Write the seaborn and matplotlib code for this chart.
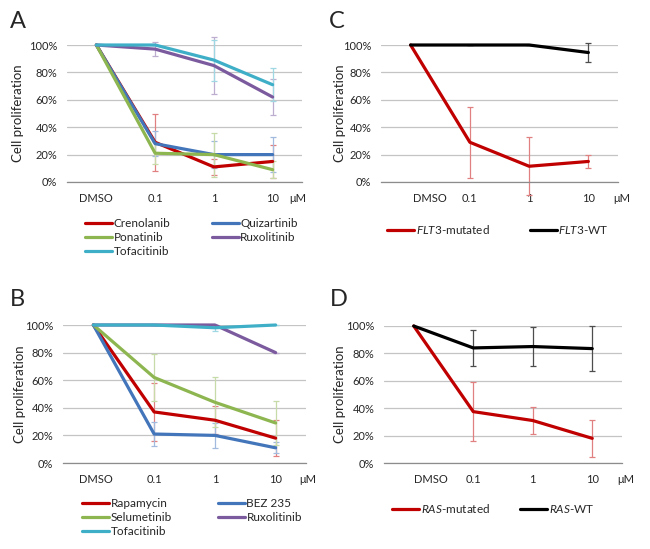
import numpy as np
import pandas as pd
import matplotlib
matplotlib.use("Agg")
import matplotlib.pyplot as plt
import seaborn as sns
from matplotlib.lines import Line2D
from matplotlib.colors import to_rgb
from matplotlib.ticker import PercentFormatter
from matplotlib.transforms import ScaledTranslation

# ---- data (fraction of DMSO control) ----
doses = ["DMSO", "0.1", "1", "10"]

a_drugs = ["Crenolanib", "Quizartinib", "Ponatinib", "Ruxolitinib", "Tofacitinib"]
a_means = [[1.00, 0.29, 0.11, 0.15],
           [1.00, 0.28, 0.20, 0.20],
           [1.00, 0.21, 0.20, 0.09],
           [1.00, 0.97, 0.85, 0.62],
           [1.00, 1.00, 0.89, 0.71]]
a_errs = [[0, 0.21, 0.06, 0.12],
          [0, 0.09, 0.10, 0.13],
          [0, 0.08, 0.16, 0.06],
          [0, 0.05, 0.21, 0.13],
          [0, 0.00, 0.15, 0.12]]

b_drugs = ["Rapamycin", "BEZ 235", "Selumetinib", "Ruxolitinib", "Tofacitinib"]
b_means = [[1.00, 0.37, 0.31, 0.18],
           [1.00, 0.21, 0.20, 0.11],
           [1.00, 0.62, 0.44, 0.29],
           [1.00, 1.00, 1.00, 0.80],
           [1.00, 1.00, 0.98, 1.00]]
b_errs = [[0, 0.21, 0.10, 0.13],
          [0, 0.09, 0.09, 0.04],
          [0, 0.17, 0.18, 0.16],
          [0, 0.00, 0.00, 0.00],
          [0, 0.00, 0.02, 0.00]]

c_groups = ["$\\mathit{FLT3}$-mutated", "$\\mathit{FLT3}$-WT"]
c_means = [[1.00, 0.29, 0.115, 0.15],
           [1.00, 1.00, 1.00, 0.945]]
c_errs = [[0, 0.26, 0.21, 0.05],
          [0, 0.00, 0.00, 0.07]]

d_groups = ["$\\mathit{RAS}$-mutated", "$\\mathit{RAS}$-WT"]
d_means = [[1.00, 0.375, 0.31, 0.18],
           [1.00, 0.84, 0.85, 0.835]]
d_errs = [[0, 0.215, 0.10, 0.135],
          [0, 0.13, 0.14, 0.165]]

# ---- style ----
RED, BLUE, GREEN, PURPLE, CYAN, BLACK = "#C00000", "#4375BA", "#8DB650", "#7B5A9E", "#3FAFC8", "#000000"

sns.set_style("white")
plt.rcParams["font.family"] = ["Lato", "DejaVu Sans"]
plt.rcParams["mathtext.fontset"] = "custom"
plt.rcParams["mathtext.rm"] = "Lato"
plt.rcParams["mathtext.it"] = "Lato:italic"

FS = 8
fig = plt.figure(figsize=(6.5, 5.49), dpi=100)


def tint(c, mix):
    r = np.array(to_rgb(c))
    return tuple(r + (1 - r) * mix)


def draw_panel(rect, names, means, errs, colors, letter, letter_xy, ylab_x,
               mu_x, dmso_dx, leg_xy, colspace):
    ax = fig.add_axes(rect)
    x = np.arange(len(doses))
    df = pd.DataFrame({
        "pos": np.tile(x, len(names)),
        "value": np.concatenate(means),
        "series": np.repeat(names, len(doses)),
    })
    for m, e, c in zip(means, errs, colors):
        ec = tint(c, 0.3 if c == BLACK else 0.5)
        ax.errorbar(x[1:], m[1:], yerr=e[1:], fmt="none", ecolor=ec,
                    elinewidth=0.9, capsize=2.2, capthick=0.9, zorder=2,
                    clip_on=False)
    sns.lineplot(data=df, x="pos", y="value", hue="series", hue_order=names,
                 palette=colors, sort=False, errorbar=None, linewidth=2.3,
                 legend=False, ax=ax, clip_on=False, zorder=3)

    ax.set_xlim(-0.5, 3.5)
    ax.set_ylim(0, 1)
    ax.set_xticks(x)
    ax.set_xticklabels(doses)
    ax.set_xticks(np.arange(-0.5, 4, 1), minor=True)
    ax.tick_params(axis="x", which="major", length=0, pad=8, labelsize=FS)
    ax.tick_params(axis="x", which="minor", length=3, width=0.8,
                   color="#8c8c8c", direction="out")
    ax.set_yticks(np.linspace(0, 1, 6))
    ax.yaxis.set_major_formatter(PercentFormatter(1.0, decimals=0))
    ax.tick_params(axis="y", length=0, pad=7, labelsize=FS)
    ax.grid(axis="y", color="#c4c4c4", linewidth=0.9)
    ax.grid(axis="x", visible=False)
    ax.set_axisbelow(True)
    sns.despine(ax=ax, left=True)
    ax.spines["bottom"].set_color("#8c8c8c")
    ax.spines["bottom"].set_linewidth(0.9)
    ax.set_xlabel("")
    ax.set_ylabel("Cell proliferation", fontsize=9.5, va="center")
    ax.yaxis.set_label_coords(ylab_x, 0.5)

    if dmso_dx:
        lbl = ax.get_xticklabels()[0]
        lbl.set_transform(lbl.get_transform() +
                          ScaledTranslation(dmso_dx / 100, 0, fig.dpi_scale_trans))
    ax.annotate("\u03bcM", xy=(mu_x, 0), xycoords=("data", "axes fraction"),
                xytext=(0, -8), textcoords="offset points", ha="center",
                va="top", fontsize=FS, annotation_clip=False)

    handles = [Line2D([], [], color=c, linewidth=2.3) for c in colors]
    if len(names) > 2:
        order = [0, 2, 4, 1, 3]
    else:
        order = [0, 1]
    ax.legend([handles[i] for i in order], [names[i] for i in order],
              loc="upper left", bbox_to_anchor=leg_xy,
              bbox_transform=fig.transFigure, ncol=2, frameon=False,
              fontsize=8.5, handlelength=2.3, handletextpad=0.12,
              columnspacing=colspace, labelspacing=0.25, borderpad=0,
              borderaxespad=0)
    fig.text(letter_xy[0], letter_xy[1], letter, fontsize=17, ha="left",
             va="center")
    return ax


W, H = 650, 549


def rect(x0, x1, y0, y1):
    return [x0 / W, 1 - y1 / H, (x1 - x0) / W, (y1 - y0) / H]


draw_panel(rect(67, 302, 45, 182), a_drugs, a_means, a_errs,
           [RED, BLUE, GREEN, PURPLE, CYAN], "A", (10 / W, 1 - 22 / H),
           -0.209, 3.43, 0, (85 / W, 1 - 218 / H), 3.5)
draw_panel(rect(63, 306, 325, 463), b_drugs, b_means, b_errs,
           [RED, BLUE, GREEN, PURPLE, CYAN], "B", (10 / W, 1 - 299 / H),
           -0.177, 3.53, 3, (82 / W, 1 - 498 / H), 3.9)
draw_panel(rect(381, 618, 45, 182), c_groups, c_means, c_errs,
           [RED, BLACK], "C", (329 / W, 1 - 22 / H),
           -0.173, 3.57, 19, (387 / W, 1 - 223 / H), 3.4)
draw_panel(rect(384, 622, 326, 463), d_groups, d_means, d_errs,
           [RED, BLACK], "D", (330 / W, 1 - 299 / H),
           -0.185, 3.57, 17, (392 / W, 1 - 502 / H), 2.6)

fig.savefig("out.png", dpi=100)
